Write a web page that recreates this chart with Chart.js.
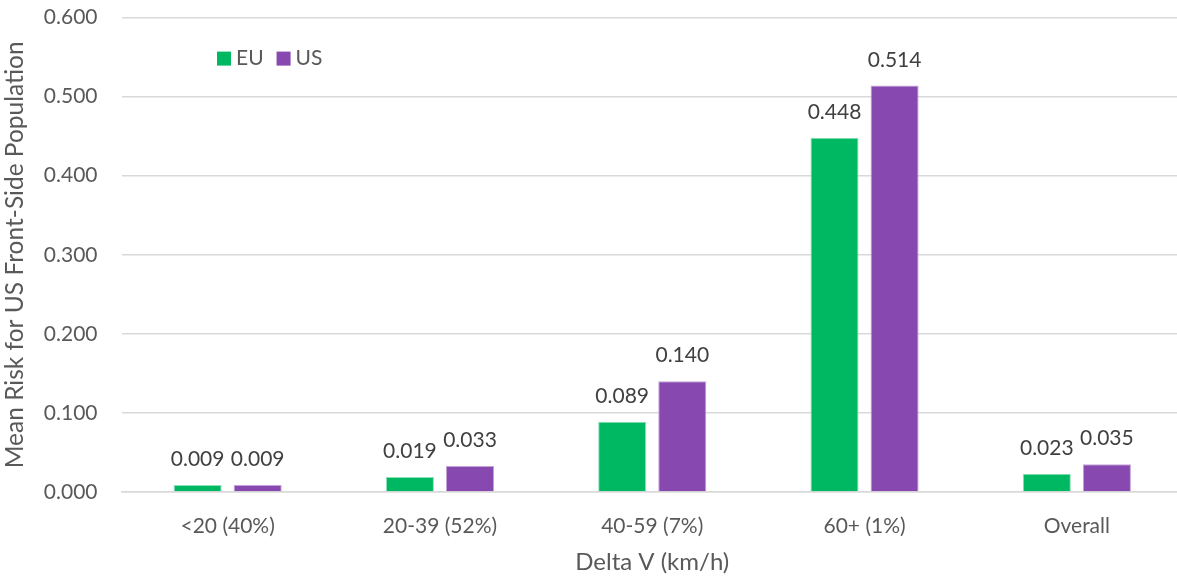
<!DOCTYPE html>
<html><head><meta charset="utf-8">
<script src="https://cdn.jsdelivr.net/npm/chart.js@4/dist/chart.umd.min.js"></script>
<style>
html,body{margin:0;padding:0;background:#fff;overflow:hidden;width:1177px;height:577px}
#wrap{position:relative;width:1183px;height:577px;overflow:hidden}
#c{position:absolute;left:0;top:-19px}
</style></head>
<body><div id="wrap"><canvas id="c" width="1183" height="596"></canvas></div>
<script>
const categories = ['<20 (40%)', '20-39 (52%)', '40-59 (7%)', '60+ (1%)', 'Overall'];
const euValues = [0.009, 0.019, 0.089, 0.448, 0.023];
const usValues = [0.009, 0.033, 0.140, 0.514, 0.035];
const seriesNames = ['EU', 'US'];
const yTicks = [0, 0.1, 0.2, 0.3, 0.4, 0.5, 0.6];

const FONT = 'Lato';
const GREEN = '#00B862', PURPLE = '#8748AF';

const valueLabels = {
  id: 'valueLabels',
  afterDatasetsDraw(chart) {
    const ctx = chart.ctx;
    ctx.save();
    ctx.font = '21px ' + FONT;
    ctx.fillStyle = '#404040';
    ctx.textAlign = 'center';
    ctx.textBaseline = 'alphabetic';
    chart.data.datasets.forEach((ds, i) => {
      chart.getDatasetMeta(i).data.forEach((bar, j) => {
        ctx.fillText(ds.data[j].toFixed(3), bar.x, bar.y - 19);
      });
    });
    ctx.restore();
  }
};

const customLegend = {
  id: 'customLegend',
  afterDraw(chart) {
    const ctx = chart.ctx;
    const area = chart.chartArea;
    ctx.save();
    ctx.font = '21px ' + FONT;
    ctx.textBaseline = 'middle';
    let x = area.left + 95.5;
    const y = area.top + 41;
    chart.data.datasets.forEach(ds => {
      ctx.fillStyle = ds.backgroundColor;
      ctx.fillRect(x, y - 7, 14, 14);
      ctx.fillStyle = '#595959';
      ctx.fillText(ds.label, x + 19, y);
      x += 19 + ctx.measureText(ds.label).width + 13;
    });
    ctx.restore();
  }
};

new Chart(document.getElementById('c'), {
  type: 'bar',
  data: {
    labels: categories,
    datasets: [
      { label: seriesNames[0], data: euValues, backgroundColor: GREEN, borderColor: '#8fe0b8', borderWidth: 1 },
      { label: seriesNames[1], data: usValues, backgroundColor: PURPLE, borderColor: '#c3a3d9', borderWidth: 1 }
    ]
  },
  options: {
    responsive: false,
    animation: false,
    layout: { padding: { top: 0, right: 0, bottom: 0, left: 0 } },
    categoryPercentage: 0.566,
    barPercentage: 0.8,
    plugins: { legend: { display: false }, tooltip: { enabled: false } },
    scales: {
      x: {
        grid: { display: false, drawTicks: false },
        border: { display: true, color: '#D9D9D9', width: 1.5 },
        ticks: { color: '#595959', font: { family: FONT, size: 21 }, padding: 22 },
        title: { display: true, text: 'Delta V (km/h)', color: '#595959', font: { family: FONT, size: 24 }, padding: { top: 8, bottom: 0 } },
        afterFit(s) { s.height = 85; }
      },
      y: {
        min: 0, max: 0.6,
        afterBuildTicks(s) { s.ticks = yTicks.map(v => ({ value: v })); },
        grid: { color: '#D9D9D9', lineWidth: 1.5, drawTicks: false },
        border: { display: false },
        ticks: { color: '#595959', font: { family: FONT, size: 21 }, padding: 24, callback: v => Number(v).toFixed(3) },
        title: { display: true, text: 'Mean Risk for US Front-Side Population', color: '#595959', font: { family: FONT, size: 24.5 }, padding: { top: 0, bottom: 4 } },
        afterFit(s) { s.width = 121.5; }
      }
    }
  },
  plugins: [valueLabels, customLegend]
});
</script></body></html>
